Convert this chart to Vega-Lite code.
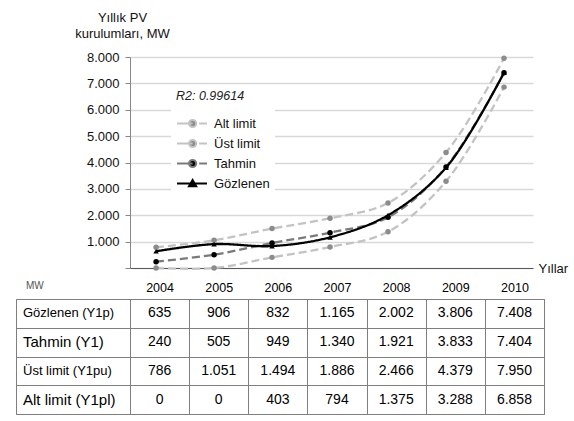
{
  "$schema": "https://vega.github.io/schema/vega-lite/v6.json",
  "padding": {"left": 15, "top": 11, "right": 5, "bottom": 4},
  "background": "white",
  "config": {
    "font": "Liberation Sans",
    "view": {"stroke": null},
    "locale": {"number": {"decimal": ",", "thousands": ".", "grouping": [3], "currency": ["", ""]}}
  },
  "datasets": {
    "pv": [
      {"s": "Alt limit", "r": "Alt limit (Y1pl)", "y": 2004, "v": 0},
      {"s": "Alt limit", "r": "Alt limit (Y1pl)", "y": 2005, "v": 0},
      {"s": "Alt limit", "r": "Alt limit (Y1pl)", "y": 2006, "v": 403},
      {"s": "Alt limit", "r": "Alt limit (Y1pl)", "y": 2007, "v": 794},
      {"s": "Alt limit", "r": "Alt limit (Y1pl)", "y": 2008, "v": 1375},
      {"s": "Alt limit", "r": "Alt limit (Y1pl)", "y": 2009, "v": 3288},
      {"s": "Alt limit", "r": "Alt limit (Y1pl)", "y": 2010, "v": 6858},
      {"s": "Üst limit", "r": "Üst limit (Y1pu)", "y": 2004, "v": 786},
      {"s": "Üst limit", "r": "Üst limit (Y1pu)", "y": 2005, "v": 1051},
      {"s": "Üst limit", "r": "Üst limit (Y1pu)", "y": 2006, "v": 1494},
      {"s": "Üst limit", "r": "Üst limit (Y1pu)", "y": 2007, "v": 1886},
      {"s": "Üst limit", "r": "Üst limit (Y1pu)", "y": 2008, "v": 2466},
      {"s": "Üst limit", "r": "Üst limit (Y1pu)", "y": 2009, "v": 4379},
      {"s": "Üst limit", "r": "Üst limit (Y1pu)", "y": 2010, "v": 7950},
      {"s": "Tahmin", "r": "Tahmin  (Y1)", "y": 2004, "v": 240},
      {"s": "Tahmin", "r": "Tahmin  (Y1)", "y": 2005, "v": 505},
      {"s": "Tahmin", "r": "Tahmin  (Y1)", "y": 2006, "v": 949},
      {"s": "Tahmin", "r": "Tahmin  (Y1)", "y": 2007, "v": 1340},
      {"s": "Tahmin", "r": "Tahmin  (Y1)", "y": 2008, "v": 1921},
      {"s": "Tahmin", "r": "Tahmin  (Y1)", "y": 2009, "v": 3833},
      {"s": "Tahmin", "r": "Tahmin  (Y1)", "y": 2010, "v": 7404},
      {"s": "Gözlenen", "r": "Gözlenen (Y1p)", "y": 2004, "v": 635},
      {"s": "Gözlenen", "r": "Gözlenen (Y1p)", "y": 2005, "v": 906},
      {"s": "Gözlenen", "r": "Gözlenen (Y1p)", "y": 2006, "v": 832},
      {"s": "Gözlenen", "r": "Gözlenen (Y1p)", "y": 2007, "v": 1165},
      {"s": "Gözlenen", "r": "Gözlenen (Y1p)", "y": 2008, "v": 2002},
      {"s": "Gözlenen", "r": "Gözlenen (Y1p)", "y": 2009, "v": 3806},
      {"s": "Gözlenen", "r": "Gözlenen (Y1p)", "y": 2010, "v": 7408}
    ]
  },
  "columns": 2,
  "spacing": {"row": 31, "column": 0},
  "bounds": "flush",
  "align": "each",
  "concat": [
    {
      "width": 114,
      "height": 211,
      "data": {"values": []},
      "mark": "text"
    },
    {
      "width": 403,
      "height": 211,
      "data": {"name": "pv"},
      "encoding": {
        "x": {
          "field": "y", "type": "quantitative",
          "scale": {"domain": [2003.55, 2010.5], "nice": false, "zero": false},
          "axis": {
            "title": "Yıllar", "labels": false, "ticks": false, "grid": false,
            "domainColor": "#595959", "domainWidth": 1,
            "titleX": 408, "titleY": 0, "titleAlign": "left", "titleBaseline": "middle",
            "titleFontSize": 13, "titleFontWeight": "normal", "titleColor": "#111"
          }
        },
        "y": {
          "field": "v", "type": "quantitative",
          "scale": {"domain": [0, 8000], "nice": false},
          "axis": {
            "tickCount": 8,
            "format": ",.0f",
            "labelExpr": "datum.value == 0 ? '' : datum.label",
            "title": ["Yıllık PV", "kurulumları, MW"],
            "titleAngle": 0, "titleAlign": "center", "titleBaseline": "alphabetic",
            "titleX": -8, "titleY": -36, "titleLineHeight": 16,
            "titleFontSize": 13, "titleFontWeight": "normal", "titleColor": "#111",
            "labelFontSize": 13, "labelColor": "#111", "labelPadding": 6,
            "tickSize": 5, "tickColor": "#868686", "domainColor": "#868686",
            "gridColor": "#d9d9d9", "gridWidth": 1.3
          }
        }
      },
      "layer": [
        {
          "mark": {"type": "line", "interpolate": "catmull-rom", "strokeWidth": 2.3},
          "encoding": {
            "stroke": {
              "field": "s", "type": "nominal",
              "scale": {"domain": ["Alt limit", "Üst limit", "Tahmin", "Gözlenen"], "range": ["#c3c3c3", "#c3c3c3", "#7a7a7a", "#000000"]},
              "legend": null
            },
            "strokeDash": {
              "field": "s", "type": "nominal",
              "scale": {"domain": ["Alt limit", "Üst limit", "Tahmin", "Gözlenen"], "range": [[8, 4], [8, 4], [8, 4], [1, 0]]},
              "legend": null
            }
          }
        },
        {
          "mark": {"type": "point", "filled": true, "opacity": 1, "size": 30},
          "encoding": {
            "fill": {
              "field": "s", "type": "nominal",
              "scale": {"domain": ["Alt limit", "Üst limit", "Tahmin", "Gözlenen"], "range": ["#8c8c8c", "#8c8c8c", "#000000", "#000000"]},
              "legend": null
            },
            "shape": {
              "field": "s", "type": "nominal",
              "scale": {"domain": ["Alt limit", "Üst limit", "Tahmin", "Gözlenen"], "range": ["circle", "circle", "circle", "triangle-up"]},
              "legend": null
            }
          }
        },
        {
          "transform": [{"filter": "false"}],
          "mark": {"type": "point", "filled": true, "opacity": 1, "size": 144, "strokeWidth": 2},
          "encoding": {
            "shape": {
              "field": "s", "type": "nominal",
              "scale": {
                "domain": ["Alt limit", "Üst limit", "Tahmin", "Gözlenen"],
                "range": [
                  "M-1,0H1.6M2.7,0H4M2.2,0A0.6,0.6 0 1,1 1,0A0.6,0.6 0 1,1 2.2,0Z",
                  "M-1,0H1.6M2.7,0H4M2.2,0A0.6,0.6 0 1,1 1,0A0.6,0.6 0 1,1 2.2,0Z",
                  "M-1,0H1.6M2.7,0H4M2.2,0A0.6,0.6 0 1,1 1,0A0.6,0.6 0 1,1 2.2,0Z",
                  "M-1,0H4M1.6,-0.6L2.2,0.45L1,0.45Z"
                ]
              },
              "legend": {
                "title": "R2: 0.99614",
                "orient": "none", "legendX": 41, "legendY": 28,
                "fillColor": "white", "padding": 5,
                "titleFontStyle": "italic", "titleFontWeight": "normal", "titleFontSize": 12.5,
                "titleColor": "#222", "titlePadding": 14,
                "labelFontSize": 13, "labelColor": "#111", "labelOffset": 24,
                "symbolSize": 144, "symbolStrokeWidth": 2, "rowPadding": 4
              }
            },
            "stroke": {
              "field": "s", "type": "nominal",
              "scale": {"domain": ["Alt limit", "Üst limit", "Tahmin", "Gözlenen"], "range": ["#c3c3c3", "#c3c3c3", "#7a7a7a", "#000000"]}
            },
            "fill": {
              "field": "s", "type": "nominal",
              "scale": {"domain": ["Alt limit", "Üst limit", "Tahmin", "Gözlenen"], "range": ["#8c8c8c", "#8c8c8c", "#000000", "#000000"]}
            }
          }
        }
      ],
      "resolve": {"scale": {"stroke": "independent", "fill": "independent", "shape": "independent"}}
    },
    {
      "width": 114,
      "height": 115,
      "data": {"name": "pv"},
      "transform": [{"filter": "datum.y == 2004"}],
      "view": {"stroke": "#7f7f7f"},
      "title": {"text": "MW", "anchor": "start", "fontSize": 10, "fontWeight": "normal", "color": "#555", "dx": 10, "offset": 8, "font": "Liberation Sans"},
      "mark": {"type": "text", "align": "left", "dx": 7, "color": "#000"},
      "encoding": {
        "y": {
          "field": "r", "type": "nominal",
          "scale": {"type": "band", "domain": ["Gözlenen (Y1p)", "Tahmin  (Y1)", "Üst limit (Y1pu)", "Alt limit (Y1pl)"], "paddingInner": 0, "paddingOuter": 0},
          "axis": {"title": null, "labels": false, "ticks": false, "domain": false, "grid": true, "tickBand": "extent", "gridColor": "#7f7f7f", "gridWidth": 1}
        },
        "x": {"datum": 0, "type": "quantitative", "scale": {"domain": [0, 1]}, "axis": null},
        "text": {"field": "r"},
        "size": {"condition": [{"test": "datum.s == 'Tahmin' || datum.s == 'Alt limit'", "value": 15}], "value": 13}
      }
    },
    {
      "width": 414,
      "height": 115,
      "data": {"name": "pv"},
      "view": {"stroke": "#7f7f7f"},
      "mark": {"type": "text", "fontSize": 14, "color": "#000"},
      "encoding": {
        "x": {
          "field": "y", "type": "ordinal",
          "scale": {"type": "band", "paddingInner": 0, "paddingOuter": 0},
          "axis": {"orient": "top", "title": null, "labelAngle": 0, "labelFontSize": 12.5, "labelColor": "#000", "labelPadding": 5, "ticks": false, "tickSize": 0, "domain": false, "grid": true, "tickBand": "extent", "gridColor": "#7f7f7f", "gridWidth": 1}
        },
        "y": {
          "field": "r", "type": "nominal",
          "scale": {"type": "band", "domain": ["Gözlenen (Y1p)", "Tahmin  (Y1)", "Üst limit (Y1pu)", "Alt limit (Y1pl)"], "paddingInner": 0, "paddingOuter": 0},
          "axis": {"title": null, "labels": false, "ticks": false, "domain": false, "grid": true, "tickBand": "extent", "gridColor": "#7f7f7f", "gridWidth": 1}
        },
        "text": {"field": "v", "type": "quantitative", "format": ","}
      }
    }
  ]
}
